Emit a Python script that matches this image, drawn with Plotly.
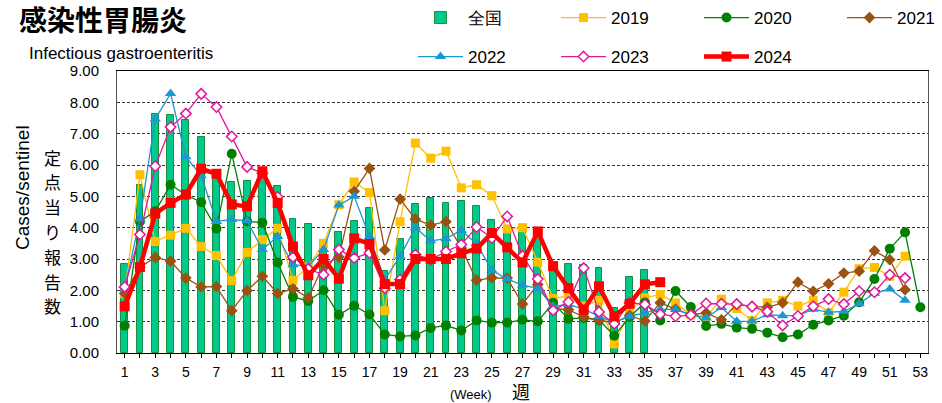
import plotly.graph_objects as go

weeks = list(range(1, 54))
tick_labels = [str(w) if w % 2 == 1 else "" for w in weeks]
ylabel_jp = "定点当り報告数"

zenkoku = [2.84, 5.36, 7.64, 7.61, 7.45, 6.90, 5.65, 5.46, 5.49, 5.75,
           5.33, 4.28, 4.12, 3.60, 3.86, 4.20, 4.62, 2.61, 3.64, 4.77,
           4.96, 4.80, 4.86, 4.70, 4.24, 3.85, 3.90, 3.85, 2.89, 2.84,
           2.80, 2.71, 1.44, 2.43, 2.64]
y2019 = [1.89, 5.69, 3.56, 3.76, 3.98, 3.40, 3.11, 2.31, 3.21, 3.62,
         3.98, 2.32, 2.75, 3.50, 4.73, 5.46, 5.12, 1.35, 4.19, 6.70,
         6.22, 6.44, 5.27, 5.37, 5.02, 3.96, 4.00, 2.90, 1.74, 1.82,
         1.50, 1.68, 0.29, 1.33, 1.76, 1.87, 1.60, 1.22, 1.15, 1.72,
         1.42, 1.04, 1.60, 1.68, 1.50, 1.68, 1.28, 1.94, 2.69, 2.73,
         2.45, 3.09]
y2020 = [0.87, 4.20, 4.52, 5.37, 5.05, 4.81, 3.97, 6.36, 4.20, 4.16,
         2.89, 1.79, 1.66, 2.00, 1.22, 1.51, 1.23, 0.59, 0.53, 0.56,
         0.80, 0.88, 0.72, 1.04, 0.97, 0.97, 1.06, 1.01, 1.60, 1.09,
         1.12, 1.05, 0.55, 1.15, 1.61, 1.04, 1.98, 1.47, 0.86, 0.93,
         0.81, 0.77, 0.65, 0.50, 0.59, 0.90, 1.04, 1.19, 1.62, 2.36,
         3.33, 3.85, 1.46]
y2021 = [1.90, 2.74, 3.05, 2.93, 2.39, 2.11, 2.12, 1.35, 1.99, 2.45,
         1.90, 2.05, 1.76, 2.82, 3.06, 5.16, 5.89, 3.29, 4.91, 4.27,
         4.08, 4.19, 3.35, 2.32, 2.40, 2.39, 1.56, 2.19, 1.42, 1.38,
         1.15, 1.04, 0.96, 1.20, 1.02, 1.60, 1.40, 1.22, 1.28, 1.06,
         1.55, 1.49, 1.46, 1.60, 2.26, 1.97, 2.21, 2.55, 2.61, 3.26,
         2.98, 2.02]
y2022 = [2.05, 4.28, 7.47, 8.28, 6.26, 5.66, 4.20, 4.26, 4.22, 3.30,
         3.72, 2.82, 2.77, 3.30, 4.72, 5.00, 3.72, 2.34, 3.09, 4.00,
         3.58, 3.65, 3.91, 3.49, 2.64, 2.36, 2.17, 2.06, 1.49, 1.55,
         1.40, 1.17, 0.97, 1.17, 1.29, 1.39, 1.39, 1.22, 1.12, 1.45,
         1.01, 1.02, 1.22, 1.19, 1.19, 1.40, 1.30, 1.33, 1.57, 1.91,
         2.04, 1.68]
y2023 = [2.11, 3.78, 5.96, 7.21, 7.64, 8.27, 7.85, 6.91, 5.94, 5.74,
         4.98, 3.06, 2.68, 2.50, 3.30, 3.03, 3.19, 2.07, 2.34, 3.14,
         2.98, 3.24, 3.46, 4.02, 3.67, 4.36, 3.10, 2.36, 1.36, 1.63,
         2.71, 1.31, 0.93, 1.60, 1.55, 1.24, 1.17, 1.21, 1.58, 1.57,
         1.56, 1.48, 1.32, 0.88, 1.18, 1.49, 1.72, 1.56, 1.97, 1.94,
         2.50, 2.39]
y2024 = [1.49, 2.74, 4.45, 4.79, 5.06, 5.88, 5.72, 4.74, 4.68, 5.80,
         4.79, 3.40, 2.48, 3.00, 2.37, 3.66, 3.48, 2.20, 2.20, 3.00,
         3.00, 3.00, 3.18, 3.33, 3.83, 3.37, 2.89, 3.88, 2.77, 2.07,
         1.38, 2.13, 1.17, 1.57, 2.19, 2.26]

W, H = 942, 403
ML, MR, MT, MB = 117, 14, 71, 50
PW, PH = W - ML - MR, H - MT - MB


def px2x(px):
    return (px - ML) / PW


def px2y(py):
    return 1 - (py - MT) / PH


FONT = "Liberation Sans, Arial, sans-serif"
JFONT = "Noto Sans CJK JP, sans-serif"

fig = go.Figure()
fig.add_trace(go.Bar(x=weeks[:len(zenkoku)], y=zenkoku, name="全国", width=0.45,
                     marker=dict(color="#00C98D", line=dict(color="#1E8C3C", width=1)),
                     legend="legend"))


def line_trace(y, name, color, symbol, size, lw=1.3, fill=None, mlw=0, legend="legend"):
    return go.Scatter(x=weeks[:len(y)], y=y, name=name, mode="lines+markers",
                      line=dict(color=color, width=lw),
                      marker=dict(symbol=symbol, size=size, color=fill or color,
                                  line=dict(color=color, width=mlw)),
                      legend=legend)


fig.add_trace(line_trace(y2019, "2019", "#FFC000", "square", 9))
fig.add_trace(line_trace(y2020, "2020", "#008000", "circle", 10))
fig.add_trace(line_trace(y2021, "2021", "#9A5212", "diamond", 9))
fig.add_trace(line_trace(y2022, "2022", "#1A98D0", "triangle-up", 10, legend="legend2"))
fig.add_trace(line_trace(y2023, "2023", "#E0189C", "diamond", 8, fill="white", mlw=1.5,
                         legend="legend2"))
fig.add_trace(line_trace(y2024, "2024", "#FF0000", "square", 10, lw=4.5, legend="legend2"))

leg_common = dict(orientation="h", xanchor="left", yanchor="middle",
                  font=dict(family=FONT, size=17, color="black"),
                  itemwidth=45, entrywidth=83, bgcolor="rgba(0,0,0,0)",
                  traceorder="normal")

fig.update_layout(
    width=W, height=H,
    margin=dict(l=ML, r=MR, t=MT, b=MB, autoexpand=False),
    paper_bgcolor="white", plot_bgcolor="white",
    font=dict(family=FONT, color="black"),
    bargap=0,
    legend=dict(x=px2x(413), y=px2y(18), **leg_common),
    legend2=dict(x=px2x(413), y=px2y(57), **leg_common),
    xaxis=dict(range=[0.5, 53.5], tickmode="array", tickvals=weeks, ticktext=tick_labels,
               ticks="outside", ticklen=4, tickcolor="black", showgrid=False,
               showline=True, linecolor="black", linewidth=1, mirror=True,
               ticklabelstandoff=2, automargin=False,
               tickfont=dict(family=FONT, size=14, color="black"), zeroline=False),
    yaxis=dict(range=[0, 9], dtick=1, tickformat=".2f", showgrid=True,
               gridcolor="#333333", griddash="3px,2px", gridwidth=1,
               showline=True, linecolor="#555555", linewidth=1, mirror=True,
               ticks="", ticklabelstandoff=14, automargin=False,
               tickfont=dict(family=FONT, size=15, color="black"),
               zeroline=False),
)

annots = [
    dict(text="<b>感染性胃腸炎</b>", x=px2x(17), y=px2y(19), xanchor="left", yanchor="middle",
         font=dict(family=JFONT, size=28, color="black")),
    dict(text="Infectious gastroenteritis", x=px2x(27), y=px2y(53), xanchor="left",
         yanchor="middle", font=dict(family=FONT, size=17, color="black")),
    dict(text="Cases/sentinel", x=px2x(22), y=px2y(188), xanchor="center", yanchor="middle",
         textangle=-90, font=dict(family=FONT, size=19, color="black")),
    dict(text="(Week)", x=px2x(471), y=px2y(394), xanchor="center", yanchor="middle",
         font=dict(family=FONT, size=13, color="black")),
    dict(text="週", x=px2x(521), y=px2y(391), xanchor="center", yanchor="middle",
         font=dict(family=JFONT, size=18, color="black")),
]
# vertical (stacked) Japanese axis title, one character per line
for i, ch in enumerate(ylabel_jp):
    annots.append(dict(text=ch, x=px2x(52), y=px2y(157 + i * 24.8), xanchor="center",
                       yanchor="middle", borderpad=0,
                       font=dict(family=JFONT, size=17, color="black")))

for a in annots:
    fig.add_annotation(xref="paper", yref="paper", showarrow=False, **a)

fig.write_html("out.html", config={"displayModeBar": False},
               post_script="document.body.style.margin='0';document.body.style.overflow='hidden';")
